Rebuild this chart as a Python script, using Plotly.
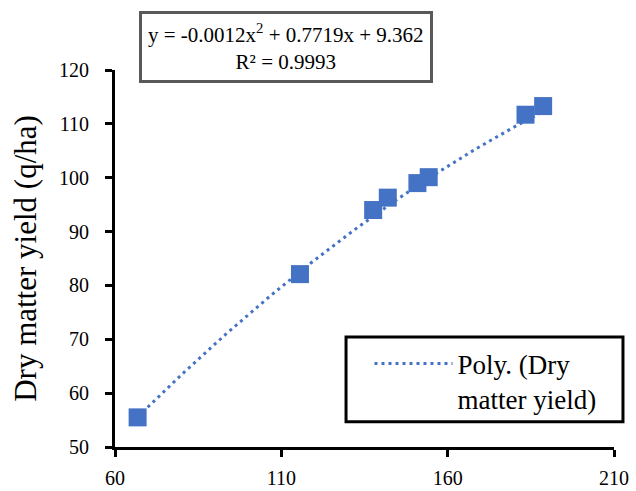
import numpy as np
import plotly.graph_objects as go

# Observed points (x, dry matter yield in q/ha)
x_vals = [66.8, 115.6, 137.6, 142.0, 150.9, 154.3, 183.4, 188.7]
y_vals = [55.5, 82.1, 94.0, 96.3, 99.0, 100.1, 111.7, 113.3]

# Second-order polynomial trendline coefficients (a*x^2 + b*x + c)
coef_a = -0.0012
coef_b = 0.7719
coef_c = 9.362
r_squared = 0.9993

x_ticks = [60, 110, 160, 210]
y_ticks = [50, 60, 70, 80, 90, 100, 110, 120]

blue = "#4472C4"
serif = "Liberation Serif"

xt = np.linspace(min(x_vals), max(x_vals), 200)
yt = coef_a * xt**2 + coef_b * xt + coef_c

fig = go.Figure()
fig.add_trace(go.Scatter(
    x=xt, y=yt, mode="lines",
    line=dict(color=blue, width=3, dash="3px,4px"),
    name="Poly. (Dry<br>matter yield)",
    showlegend=True,
))
fig.add_trace(go.Scatter(
    x=x_vals, y=y_vals, mode="markers",
    marker=dict(symbol="square", size=18, color=blue, line=dict(width=0)),
    name="Dry matter yield",
    showlegend=False,
))

eq_text = (f"y = {coef_a:.4f}x<sup>2</sup> + {coef_b:.4f}x + {coef_c:.3f}"
           f"<br>R² = {r_squared:.4f}")

fig.add_annotation(
    text=eq_text, xref="paper", yref="paper",
    x=0.342, y=1.157, xanchor="center", yanchor="top",
    showarrow=False, align="center",
    font=dict(family=serif, size=21, color="black"),
    bordercolor="#595959", borderwidth=3, borderpad=6,
    bgcolor="white",
)

# Frame around the legend entry
fig.add_shape(
    type="rect", xref="paper", yref="paper",
    x0=0.463, x1=1.018, y0=0.067, y1=0.292,
    line=dict(color="black", width=3), fillcolor="white", layer="below",
)

axis_common = dict(
    showline=True, linecolor="black", linewidth=3,
    ticks="outside", ticklen=7, tickwidth=3, tickcolor="black",
    showgrid=False, zeroline=False, automargin=False,
    tickfont=dict(family=serif, size=20, color="black"),
)

fig.update_layout(
    width=636, height=491,
    margin=dict(l=115, r=22, t=70, b=44),
    paper_bgcolor="white", plot_bgcolor="white",
    font=dict(family=serif, color="black"),
    xaxis=dict(range=[60, 210], tickvals=x_ticks, ticklabelstandoff=4,
               **axis_common),
    yaxis=dict(range=[50, 120], tickvals=y_ticks, ticklabelstandoff=12,
               title=dict(text="Dry matter yield (q/ha)", standoff=14,
                          font=dict(family=serif, size=31, color="black")),
               **axis_common),
    legend=dict(
        x=0.51, y=0.285, xanchor="left", yanchor="top",
        borderwidth=0, bgcolor="rgba(0,0,0,0)", valign="top",
        font=dict(family=serif, size=27, color="black"),
        itemwidth=78,
    ),
)

fig.write_html("out.html")
